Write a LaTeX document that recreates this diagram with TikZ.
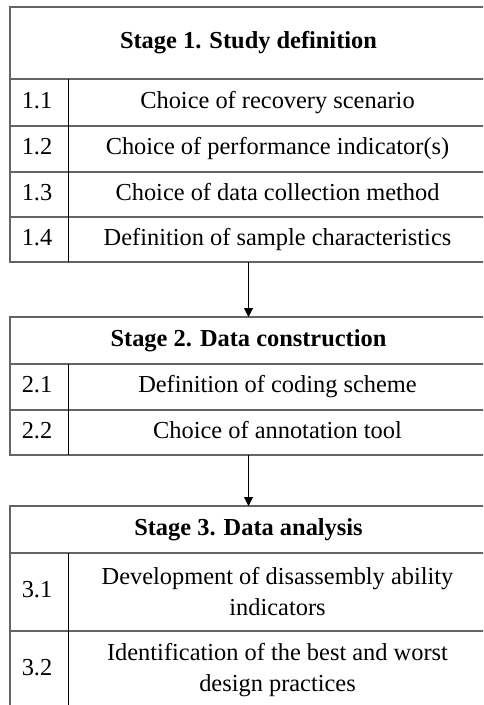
\documentclass[tikz,border=0pt]{standalone}
\usepackage{fontspec}
\setmainfont{Liberation Serif}
\usetikzlibrary{arrows.meta,positioning}
\definecolor{RuleGray}{RGB}{100,100,100}
\tikzset{
  stage/.style={anchor=north west,minimum width=238.5pt,inner sep=0pt,outer sep=0pt},
  frame/.style={RuleGray,line width=0.9pt},
  hrule/.style={RuleGray,line width=0.9pt},
  vrule/.style={black,line width=0.5pt},
  head/.style={font=\fontsize{12.2}{15.5}\selectfont\bfseries,inner sep=0pt,
    text height=8.4pt,text depth=2.6pt},
  num/.style={font=\fontsize{12.2}{15.5}\selectfont,inner sep=0pt,
    text height=8.4pt,text depth=2.6pt},
  item/.style={font=\fontsize{12.2}{15.5}\selectfont,inner sep=0pt,
    text height=8.4pt,text depth=2.6pt},
  item2/.style={font=\fontsize{12.2}{15.5}\selectfont,inner sep=0pt,align=center},
  flow/.style={-{Triangle[length=4.5pt,width=4.5pt]},black,line width=0.5pt}
}

\begin{document}
\begin{tikzpicture}[x=0.5pt,y=-0.5pt]
  \useasboundingbox (0,0) rectangle (483,705);
  \clip (0,0) rectangle (483,705);
  % stage frames (right side falls outside the picture)
  \node[stage,minimum height=127.5pt] (s1) at (10,7) {};
  \node[stage,minimum height=69pt] (s2) at (10,317) {};
  \node[stage,minimum height=101.5pt] (s3) at (10,506) {};
  \draw[frame] (s1.north east) -- (s1.north west) -- (s1.south west) -- (s1.south east);
  \draw[frame] (s2.north east) -- (s2.north west) -- (s2.south west) -- (s2.south east);
  \draw[frame] (s3.north east) -- (s3.north west) -- (s3.south west);

  % stage 1
  \draw[hrule] (10,79) -- (487,79);
  \draw[hrule] (10,126) -- (487,126);
  \draw[hrule] (10,172) -- (487,172);
  \draw[hrule] (10,217) -- (487,217);
  \draw[vrule] (68,79) -- (68,262);
  \node[head] (h1) at (248.5,43) {Stage 1. Study definition};
  \node[num] (n11) at (37,102.5) {1.1};
  \node[item] (t11) at (277.5,102.5) {Choice of recovery scenario};
  \node[num] (n12) at (37,149) {1.2};
  \node[item] (t12) at (277.5,149) {Choice of performance indicator(s)};
  \node[num] (n13) at (37,194.5) {1.3};
  \node[item] (t13) at (277.5,194.5) {Choice of data collection method};
  \node[num] (n14) at (37,239.5) {1.4};
  \node[item] (t14) at (277.5,239.5) {Definition of sample characteristics};

  % stage 2
  \draw[hrule] (10,364) -- (487,364);
  \draw[hrule] (10,410) -- (487,410);
  \draw[vrule] (68,364) -- (68,455);
  \node[head] (h2) at (248.5,340.5) {Stage 2. Data construction};
  \node[num] (n21) at (37,387) {2.1};
  \node[item] (t21) at (277.5,387) {Definition of coding scheme};
  \node[num] (n22) at (37,432.5) {2.2};
  \node[item] (t22) at (277.5,432.5) {Choice of annotation tool};

  % stage 3
  \draw[hrule] (10,553) -- (487,553);
  \draw[hrule] (10,631) -- (487,631);
  \draw[vrule] (68,553) -- (68,709);
  \node[head] (h3) at (248.5,529.5) {Stage 3. Data analysis};
  \node[num] (n31) at (37,592) {3.1};
  \node[item2] (t31) at (277.5,592) {Development of disassembly ability\\indicators};
  \node[num] (n32) at (37,670) {3.2};
  \node[item2] (t32) at (277.5,670) {Identification of the best and worst\\design practices};

  % flow between stages
  \draw[flow] (s1.south) -- (s2.north);
  \draw[flow] (s2.south) -- (s3.north);
\end{tikzpicture}
\end{document}
